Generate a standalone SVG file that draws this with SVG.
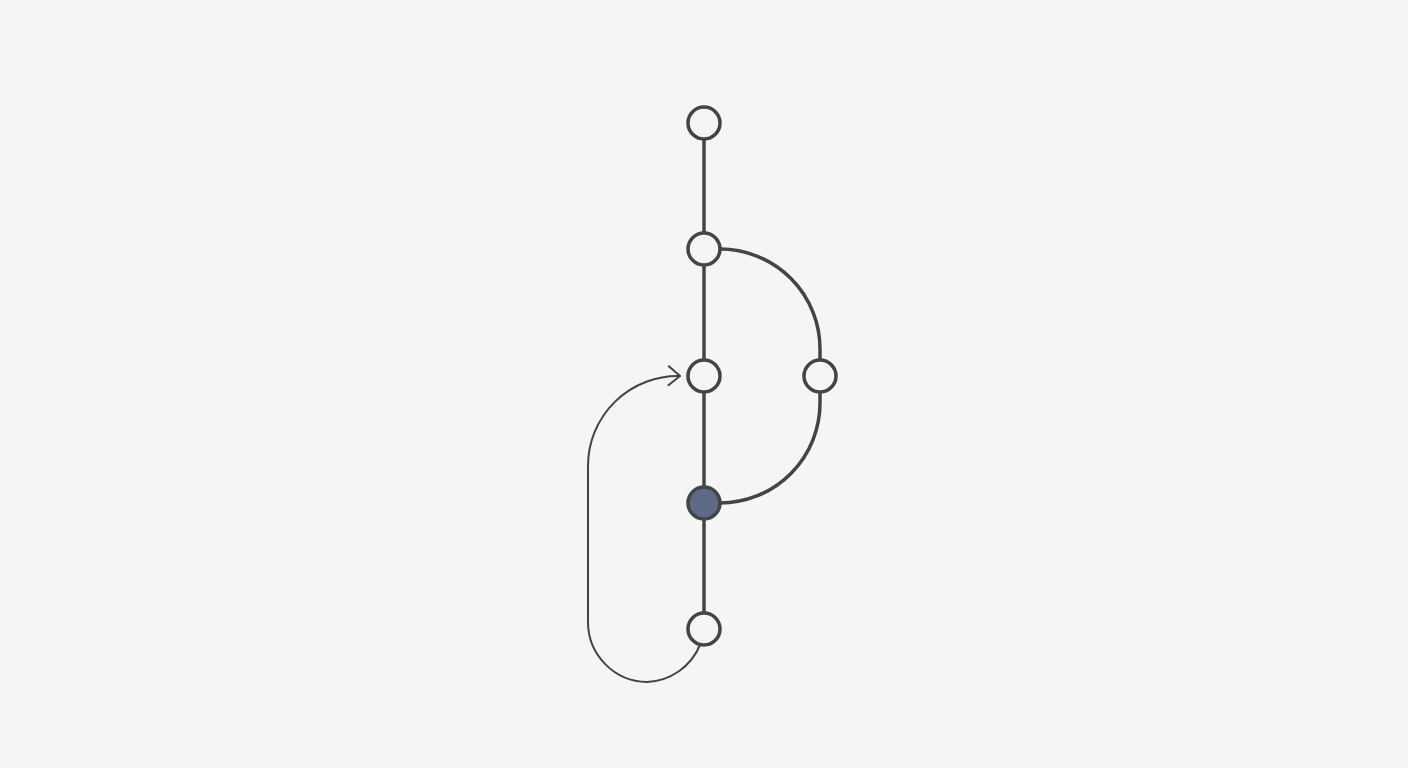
<svg xmlns="http://www.w3.org/2000/svg" width="1408" height="768" viewBox="0 0 1408 768">
<style>
.node{fill:#f5f5f3;stroke:#444444;stroke-width:3.5}
.filled{fill:#5d6a86}
.edge{fill:none;stroke:#444444;stroke-width:3.5}
.loop{fill:none;stroke:#444444;stroke-width:2}
</style>
<defs>
<marker id="chev" viewBox="0 0 16 22" refX="14" refY="11" markerWidth="16" markerHeight="22" markerUnits="userSpaceOnUse" orient="auto">
<path d="M2,1 L14,11 L2,21" fill="none" stroke="#444444" stroke-width="2"/>
</marker>
</defs>
<rect width="1408" height="768" fill="#f5f5f3"/>
<g id="connectors">
<line class="edge" x1="704" y1="139" x2="704" y2="233"/>
<line class="edge" x1="704" y1="265" x2="704" y2="360"/>
<line class="edge" x1="704" y1="392" x2="704" y2="487"/>
<line class="edge" x1="704" y1="519" x2="704" y2="613"/>
<path class="edge" d="M720,249 A100,100 0 0 1 820,349 L820,360"/>
<path class="edge" d="M820,392 L820,403 A100,100 0 0 1 720,503"/>
<path class="loop" d="M700,645 A60,60 0 0 1 647,682 A60,60 0 0 1 588,622 L588,466 A90,90 0 0 1 680,376" marker-end="url(#chev)"/>
</g>
<g id="n1"><circle class="node" cx="704" cy="123" r="16"/></g>
<g id="n2"><circle class="node" cx="704" cy="249" r="16"/></g>
<g id="n3"><circle class="node" cx="704" cy="376" r="16"/></g>
<g id="n4"><circle class="node" cx="820" cy="376" r="16"/></g>
<g id="n5"><circle class="node filled" cx="704" cy="503" r="16"/></g>
<g id="n6"><circle class="node" cx="704" cy="629" r="16"/></g>
</svg>
